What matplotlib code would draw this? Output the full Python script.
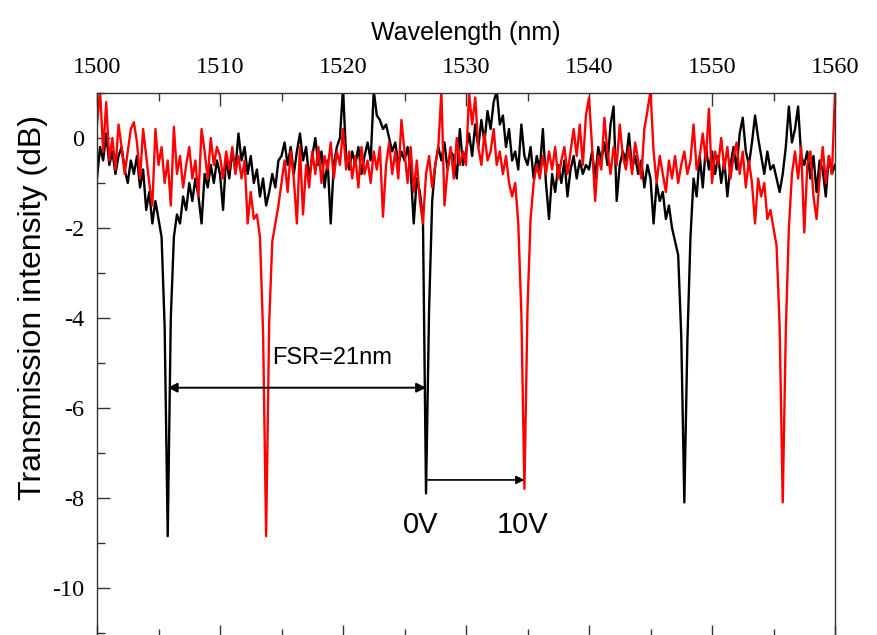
import numpy as np
import matplotlib
matplotlib.use("Agg")
import matplotlib.pyplot as plt
from matplotlib.ticker import MultipleLocator

plt.rcParams["axes.unicode_minus"] = False

# wavelength sweep, 0.25 nm steps from 1500 to 1560 nm
wl = np.linspace(1500, 1560, 241)

# 0 V trace (black), dB
v0 = [
    -0.9, -0.2, -0.5, 0.1, -0.6, -0.3, -0.8, -0.4, -0.2, -0.7, -1.0, -0.5, -0.8, -0.4, -1.1, -0.7, -1.6, -1.2, -1.9, -1.4,
    -1.8, -2.2, -4.2, -8.85, -4.0, -2.2, -1.7, -1.9, -1.3, -1.6, -1.0, -1.4, -0.9, -1.3, -1.9, -0.8, -1.1, -0.6, -1.0, -0.5,
    -0.8, -1.6, -0.4, -0.9, -0.3, -0.7, 0.1, -0.5, -0.2, -0.8, -0.4, -1.0, -0.7, -1.3, -0.9, -1.5, -1.2, -0.8, -1.1, -0.5,
    -0.4, -0.1, -0.6, -0.2, -0.8, -0.3, 0.1, -0.5, -0.2, -0.9, -0.4, 0.0, -0.6, -0.3, -1.1, -0.5, -1.9, -0.6, -0.2, 0.0,
    1.1, -0.4, -0.7, -0.3, -0.6, -0.2, -0.8, -0.4, -0.1, -0.5, 1.05, 0.5, 0.4, 0.2, 0.3, 0.0, -0.3, -0.1, -0.6, -0.3,
    -0.5, -0.2, -0.7, -1.9, -0.9, -1.2, -1.8, -7.9, -3.8, -1.4, -0.6, -0.2, -0.5, -0.1, -0.7, -0.3, -0.4, -0.9, 0.2, -0.6,
    -0.3, 0.1, -0.4, 0.3, -0.2, 0.4, -0.1, 0.6, 0.2, 0.8, 1.05, 0.3, 0.5, -0.2, 0.2, -0.5, -0.3, -0.7, 0.3, -0.4,
    -0.6, -0.2, -0.9, -0.4, -0.7, 0.2, -1.0, -1.8, -0.8, -1.2, -0.6, -1.0, -0.5, -1.3, -0.7, -0.4, -0.9, -0.5, -0.8, -0.6,
    -0.7, -0.3, -0.9, -0.2, -0.5, -0.1, -0.6, 0.3, 0.7, -1.4, -0.6, -0.3, -0.5, 0.1, -0.7, -0.4, -0.8, -0.5, -1.1, -0.6,
    -0.9, -1.9, -1.0, -1.4, -1.2, -1.8, -1.5, -2.0, -2.3, -2.6, -4.4, -8.1, -4.5, -2.2, -0.9, -1.3, -0.4, -1.1, -0.2, -0.7,
    -0.3, -0.8, -0.4, -1.0, -0.5, -1.3, -0.6, -0.2, -0.7, 0.1, 0.45, -0.3, -0.6, -0.1, 0.5, 0.0, -0.4, -0.8, -0.3, -0.7,
    -0.6, -0.9, -1.2, -0.8, -0.2, 0.7, -0.1, 0.2, 0.7, -0.4, -0.6, -0.3, -0.9, -0.4, -1.2, -0.5, -0.7, -1.3, -0.4, -0.8,
    -0.6,
]

# 10 V trace (red), dB
v10 = [
    0.3, 1.05, -0.3, 0.8, -0.5, 0.0, -0.7, 0.3, -0.2, -0.8, -0.3, 0.2, 0.35, -0.1, -0.9, 0.2, -0.4, -1.0, -1.5, 0.2,
    -0.6, -0.2, -1.0, -0.5, -1.5, 0.25, -0.8, -0.4, -1.1, -0.6, -0.2, -0.9, -0.5, -1.3, 0.2, -0.3, -0.9, 0.0, -0.6, -0.2,
    -0.4, -0.9, -0.3, -0.7, -0.2, -0.8, -0.4, -0.9, -0.5, -1.9, -1.2, -1.8, -1.7, -2.2, -4.3, -8.85, -4.1, -2.3, -1.9, -1.5,
    -1.0, -0.5, -1.2, -0.3, -0.9, -1.9, -0.2, -1.7, -0.6, -1.1, -0.3, -0.8, -0.2, -1.0, -0.4, -0.7, -0.1, -0.9, -0.3, -0.6,
    0.2, -0.7, -0.3, -0.9, -0.4, -1.1, -0.2, -0.8, -0.5, -1.0, -0.3, -0.7, -0.2, -1.75, -0.6, -0.1, -0.8, -0.3, -0.9, 0.4,
    -0.3, -1.0, -0.2, -1.2, -0.5, -1.4, -1.9, -0.8, -0.4, -1.1, -0.6, -0.2, 1.05, -1.5, -0.7, -0.2, -0.9, 0.0, -0.6, -0.3,
    -0.6, 1.0, 0.3, 0.9, -0.2, -0.6, 0.1, -0.5, -0.3, 0.2, -0.6, -0.3, -0.8, -0.4, -1.0, -1.3, -1.0, -1.9, -3.9, -7.8,
    -3.8, -1.8, -1.0, -0.6, -0.9, -0.4, -0.8, -0.3, -0.7, -0.2, -0.9, -0.5, -0.2, -0.8, -0.3, 0.2, -0.4, 0.3, -0.6, 0.5,
    0.9, -0.2, -1.4, -0.4, -0.7, 0.45, -0.3, -0.8, -0.2, -0.6, 0.3, -0.4, -0.7, -0.2, -0.8, -0.1, -0.5, -0.9, 0.2, 0.6,
    1.05, -0.3, -1.0, -0.4, -0.8, -1.2, -0.5, -0.9, -0.4, -1.0, -0.6, -0.3, -0.8, -0.5, 0.3, -0.7, -0.4, 0.1, -0.5, 0.65,
    -1.0, -0.3, -0.6, 0.0, -0.7, -0.2, -0.9, -0.4, -0.1, -0.8, -0.3, -1.1, -0.5, -1.0, -1.9, -0.9, -1.3, -1.0, -1.8, -1.6,
    -2.0, -2.4, -4.2, -8.1, -4.3, -2.0, -0.8, -0.3, -0.9, -0.2, -2.1, -0.6, -0.3, -1.3, -1.8, -0.9, -0.2, -1.0, -0.4, -0.8,
    1.0,
]

fig = plt.figure(figsize=(8.77, 6.35), dpi=100)
# axes runs just past the bottom edge, so only the bottom ticks show
ax = fig.add_axes([97 / 877, -1.5 / 635, (835 - 97) / 877, 543.5 / 635])

ax.plot(wl, v0, color="black", lw=1.7)
ax.plot(wl, v10, color="#ff0000", lw=1.7)

ax.set_xlim(1500, 1560)
ax.set_ylim(-11.08, 1.0)

ax.xaxis.set_major_locator(MultipleLocator(10))
ax.xaxis.set_minor_locator(MultipleLocator(5))
ax.yaxis.set_minor_locator(MultipleLocator(1))
ax.tick_params(which="both", direction="in", top=True, bottom=True, left=True, right=False,
               labeltop=True, labelbottom=False, labelleft=True, width=1.0, color="#333333")
ax.tick_params(which="major", length=9)
ax.tick_params(which="minor", length=5.5)
ax.tick_params(axis="x", which="major", pad=11)
ax.tick_params(axis="y", which="major", pad=9)
ax.set_yticks([0, -2, -4, -6, -8, -10])
ax.set_yticklabels(["0", "-2", "-4", "-6", "-8", "-10"])
for lab in ax.get_xticklabels() + ax.get_yticklabels():
    lab.set_fontfamily("Liberation Serif")
    lab.set_fontsize(17.5)
for s in ax.spines.values():
    s.set_color("#333333")
    s.set_linewidth(1.0)

fig.text(466 / 877, 1 - 33 / 635, "Wavelength (nm)", ha="center", va="center",
         family="Liberation Sans", fontsize=18)
fig.text(33 / 877, 1 - 307 / 635, "Transmission intensity (dB)", ha="center", va="center",
         rotation=90, family="Liberation Sans", fontsize=23)

# FSR arrow between adjacent 0 V resonances
ax.annotate("", xy=(1505.75, -5.55), xytext=(1526.75, -5.55),
            arrowprops=dict(arrowstyle="<|-|>", color="black", lw=1.4, mutation_scale=14,
                            shrinkA=0, shrinkB=0))
ax.text(1519.1, -4.9, "FSR=21nm", ha="center", va="center", family="Liberation Sans", fontsize=17)

# shift arrow 0 V -> 10 V
ax.annotate("", xy=(1534.75, -7.6), xytext=(1526.75, -7.6),
            arrowprops=dict(arrowstyle="-|>", color="black", lw=1.2, mutation_scale=12,
                            shrinkA=0, shrinkB=0))
ax.text(1526.3, -8.6, "0V", ha="center", va="center",
        family=["Liberation Sans Narrow", "Liberation Sans"], fontsize=21)
ax.text(1534.6, -8.6, "10V", ha="center", va="center",
        family=["Liberation Sans Narrow", "Liberation Sans"], fontsize=21)

fig.savefig("out.png", dpi=100)
